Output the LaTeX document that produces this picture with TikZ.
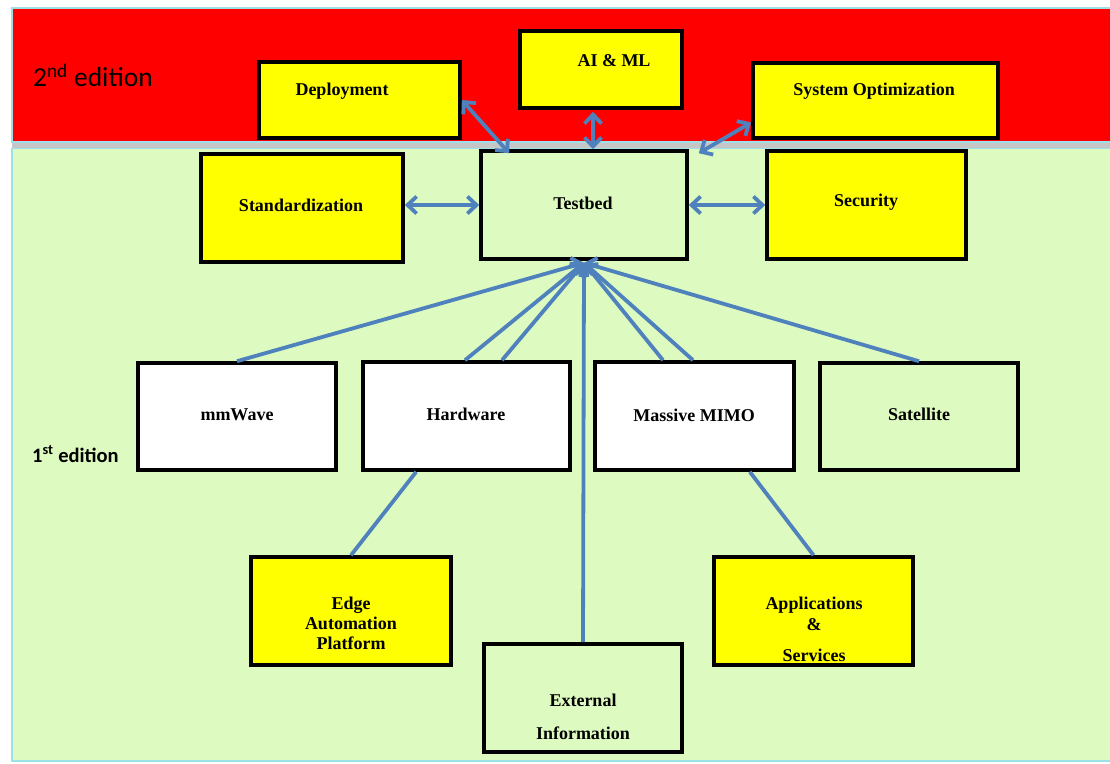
\documentclass[tikz,border=0pt]{standalone}
\usepackage{fontspec}
\setmainfont{Liberation Serif}
\newfontfamily\carl{Carlito}
\usetikzlibrary{arrows.meta}
\definecolor{lineblue}{HTML}{4F81BD}
\definecolor{bandred}{HTML}{FF0000}
\definecolor{bandgreen}{HTML}{DDFBC0}
\definecolor{bandcyan}{HTML}{9EDFE8}
\definecolor{boxyellow}{HTML}{FFFF00}
\tikzset{
  box/.style={draw=black, line width=3.6pt, rectangle, inner sep=0pt},
  lbl/.style={font=\bfseries\fontsize{18}{20}\selectfont, align=center, inner sep=0pt},
  link/.style={draw=lineblue, line width=3.8pt},
  tip/.tip={Straight Barb[length=9pt,width=17pt]},
  biarrow/.style={link, tip-tip},
  toarrow/.style={link, -tip},
}
\begin{document}
\begin{tikzpicture}[x=1pt,y=-1pt]
\useasboundingbox (0,0) rectangle (1110,763);
% bands
\fill[white] (0,0) rectangle (1110,763);
\fill[gray!45] (12,141) rectangle (1112,149);
\draw[bandcyan, line width=1.5pt, fill=bandred] (12,8) rectangle (1114,142);
\draw[bandcyan, line width=1.5pt, fill=bandgreen] (12,148.5) rectangle (1114,761);
\node[font=\carl\fontsize{27.5}{30}\selectfont, anchor=west, inner sep=0pt] (ed2) at (33,75) {2\textsuperscript{nd} edition};
\node[font=\carl\bfseries\fontsize{20.5}{22}\selectfont, anchor=west, inner sep=0pt] (ed1) at (32,454) {1\textsuperscript{st} edition};

% boxes
\node[box, fill=boxyellow, minimum width=201pt, minimum height=76pt] (dep) at (359.5,100) {};
\node[box, fill=boxyellow, minimum width=162pt, minimum height=77pt] (ai) at (601,69.5) {};
\node[box, fill=boxyellow, minimum width=245pt, minimum height=75pt] (sys) at (875.5,100.5) {};
\node[box, fill=boxyellow, minimum width=202pt, minimum height=108pt] (std) at (302,208) {};
\node[box, fill=bandgreen, minimum width=206pt, minimum height=108pt] (tb) at (584,205) {};
\node[box, fill=boxyellow, minimum width=199pt, minimum height=108pt] (sec) at (866.5,205) {};
\node[box, fill=white, minimum width=198pt, minimum height=107pt] (mm) at (237,416.5) {};
\node[box, fill=white, minimum width=207pt, minimum height=108pt] (hw) at (466.5,416) {};
\node[box, fill=white, minimum width=199pt, minimum height=108pt] (mimo) at (694.5,416) {};
\node[box, fill=bandgreen, minimum width=198pt, minimum height=107pt] (sat) at (919,416.5) {};
\node[box, fill=boxyellow, minimum width=200pt, minimum height=108pt] (edge) at (351,611) {};
\node[box, fill=boxyellow, minimum width=199pt, minimum height=108pt] (app) at (813.5,611) {};
\node[box, fill=bandgreen, minimum width=198pt, minimum height=108pt] (ext) at (583,698) {};

% labels
\node[lbl] (depT) at (342,91) {Deployment};
\node[lbl] (aiT) at (614,61) {AI \& ML};
\node[lbl] (sysT) at (874,91) {System Optimization};
\node[lbl] (stdT) at (301,205) {Standardization};
\node[lbl] (tbT) at (583,203) {Testbed};
\node[lbl] (secT) at (866,202) {Security};
\node[lbl] (mmT) at (237,415) {mmWave};
\node[lbl] (hwT) at (466,414) {Hardware};
\node[lbl] (mimoT) at (694,415) {Massive MIMO};
\node[lbl] (satT) at (919,414) {Satellite};
\node[lbl] (edgeT) at (351,623) {Edge\\Automation\\Platform};
\node[lbl, font=\bfseries\fontsize{18}{21}\selectfont] (appT) at (814,629) {Applications\\\&\\[10pt]Services};
\node[lbl, font=\bfseries\fontsize{18}{33}\selectfont] (extT) at (583,716.5) {External\\Information};

% connectors
\coordinate (tbb) at ([yshift=-2pt]tb.south);
\draw[biarrow] (dep.east) -- ([xshift=30pt,yshift=-4pt]tb.north west);
\draw[biarrow] ([xshift=-8pt,yshift=-2pt]ai.south) -- ([xshift=9pt]tb.north);
\draw[biarrow] ([yshift=-22pt]sys.west) -- ([xshift=10pt,yshift=-4pt]tb.north east);
\draw[biarrow] (tb.west -| std.east) -- (tb.west);
\draw[biarrow] (tb.east) -- (sec.west);

\draw[toarrow] (mm.north) -- (tbb);
\draw[toarrow] ([xshift=-1.5pt]hw.north) -- (tbb);
\draw[toarrow] ([xshift=35.5pt]hw.north) -- (tbb);
\draw[toarrow] (ext.north) -- (tbb);
\draw[toarrow] ([xshift=-31.5pt]mimo.north) -- (tbb);
\draw[toarrow] ([xshift=-1.5pt]mimo.north) -- (tbb);
\draw[toarrow] (sat.north) -- (tbb);

\draw[link] ([xshift=55pt]hw.south west) -- (edge.north);
\draw[link] ([xshift=-46pt]mimo.south east) -- (app.north);
\end{tikzpicture}
\end{document}
